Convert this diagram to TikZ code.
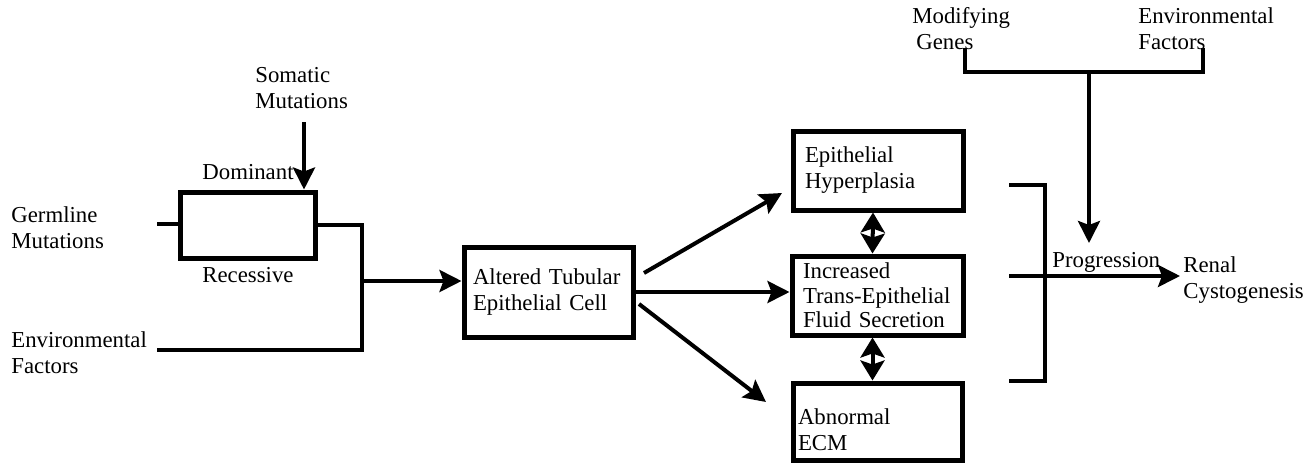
\documentclass[tikz,border=0pt]{standalone}
\usepackage{fontspec}
\setmainfont{Liberation Serif}
\usetikzlibrary{arrows.meta, calc}

\begin{document}
\begin{tikzpicture}[x=0.5pt, y=-0.5pt,
  every node/.style={font=\rmfamily\fontsize{11.4}{13}\selectfont, inner sep=0pt},
  lbl/.style={align=left, anchor=north west},
  box/.style={draw, line width=2.5pt, align=left},
  line/.style={line width=2pt},
  arr/.style={line width=2pt, -{Stealth[length=11pt, width=11pt, inset=2pt]}},
  dbl/.style={line width=2pt, {Stealth[length=10pt, width=12pt, inset=2pt]}-{Stealth[length=10pt, width=12pt, inset=2pt]}}]
\useasboundingbox (0,0) rectangle (1307,466);
\node[box, minimum width=67.5pt, minimum height=33pt] (mutbox) at (247.5,225) {};
\node[box, minimum width=84.5pt, minimum height=45pt, text width=75.5pt, inner xsep=4.5pt] (altered) at (548.5,292) {Altered Tubular\\Epithelial Cell};
\node[box, minimum width=85pt, minimum height=39.5pt, text width=73pt, inner xsep=6pt] (hyper) at (878,170.5) {Epithelial\\Hyperplasia};
\node[box, minimum width=85.5pt, minimum height=39.5pt, text width=74.5pt, inner xsep=5.5pt, font=\rmfamily\fontsize{11.4}{12.3}\selectfont] (increased) at (877.5,295.5) {Increased\\\mbox{Trans-Epithelial}\\Fluid Secretion};
\node[box, minimum width=84.5pt, minimum height=38.5pt, text width=79.5pt, inner xsep=2.5pt] (abnormal) at (877.5,421.5) {\rule{0pt}{15.8pt}Abnormal\\ECM};
\node[lbl] (germ) at (11,206.5) {Germline\\Mutations};
\node[lbl] (envleft) at (11,331.5) {Environmental\\Factors};
\node[lbl] (somatic) at (255,67.5) {Somatic\\Mutations};
\node[lbl] (dominant) at (202,164.5) {Dominant};
\node[lbl] (recessive) at (202,267) {Recessive};
\node[lbl] (modgenes) at (912,7.5) {Modifying\\\hspace*{2pt}Genes};
\node[lbl] (envtop) at (1138,7.5) {Environmental\\Factors};
\node[lbl] (progress) at (1052,252.5) {Progression};
\node[lbl] (renal) at (1183,256.5) {Renal\\Cystogenesis};
\coordinate (germin) at (157,224);
\coordinate (envin) at (157,350);
\coordinate (merge) at (362,350);
\coordinate (mergeout) at (362,281);
\coordinate (somstart) at (304,122);
\coordinate (up0) at (644,273);
\coordinate (up1) at (782,193);
\coordinate (dn0) at (639,304);
\coordinate (dn1) at (766,402);
\coordinate (brtop) at (1009,185);
\coordinate (brbot) at (1009,381);
\coordinate (brmid) at (1009,276);
\coordinate (progend) at (1180,276);
\coordinate (modfoot) at (965,48);
\coordinate (envfoot) at (1203,48);
\coordinate (topbar) at (1089,72);
\coordinate (progtop) at (1089,243);
\draw[line] (germin) -- (germin -| mutbox.west);
\draw[line] (mutbox.east) -| (merge) -- (envin);
\draw[arr] (mergeout) -- (mergeout -| altered.west);
\draw[arr] (somstart) -- (somstart |- mutbox.north);
\draw[arr] (up0) -- (up1);
\draw[arr] (altered.east) -- (altered.east -| increased.west);
\draw[arr] (dn0) -- (dn1);
\draw[dbl] ($(hyper.south)+(-5,0)$) -- ($(increased.north)+(-5,0)$);
\draw[dbl] ($(increased.south)+(-5,0)$) -- ($(abnormal.north)+(-5,0)$);
\draw[line] (brtop) -| ($(brbot)+(36,0)$) -- (brbot);
\draw[arr] (brmid) -- (progend);
\draw[line] (modfoot) |- (topbar) -| (envfoot);
\draw[arr] (topbar) -- (progtop);
\end{tikzpicture}
\end{document}
